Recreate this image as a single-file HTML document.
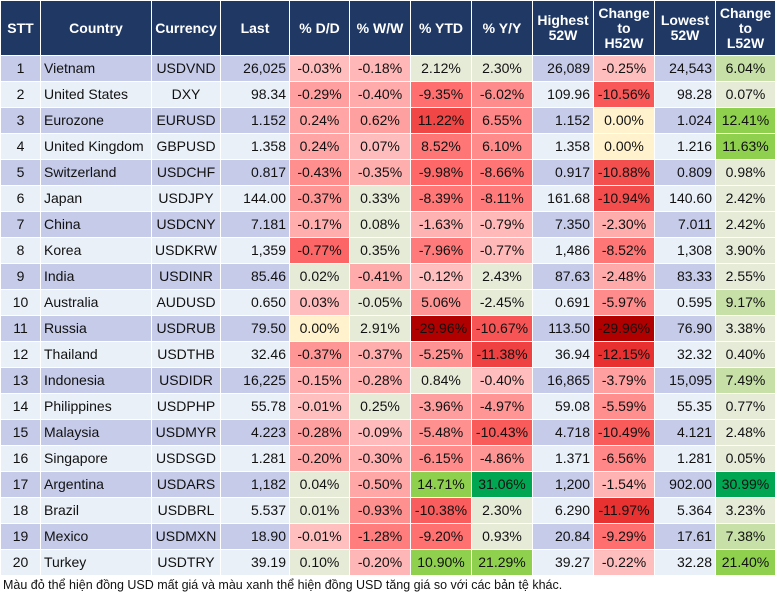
<!DOCTYPE html>
<html><head><meta charset="utf-8"><style>
body{margin:0;background:#fff;width:777px;height:602px;overflow:hidden;font-family:"Liberation Sans",Arial,sans-serif;}
#tbl{position:absolute;left:0;top:0;}
.c{position:absolute;box-sizing:border-box;font-size:14px;color:#111;line-height:24px;white-space:nowrap;overflow:hidden;}
.h{background:#1f3864;color:#fff;font-weight:bold;text-align:center;display:flex;align-items:center;justify-content:center;line-height:15px;font-size:14px;}
#foot{position:absolute;left:3px;top:578px;font-size:12.5px;color:#111;font-family:"Liberation Sans","Noto Sans CJK SC",sans-serif;}
</style></head><body>
<div id="tbl"></div>
<div id="foot">Màu đỏ thể hiện đồng USD mất giá và màu xanh thể hiện đồng USD tăng giá so với các bản tệ khác.</div>
<script>
const headers=["STT","Country","Currency","Last","% D/D","% W/W","% YTD","% Y/Y","Highest<br>52W","Change<br>to<br>H52W","Lowest<br>52W","Change<br>to<br>L52W"];
const countries=["Vietnam","United States","Eurozone","United Kingdom","Switzerland","Japan","China","Korea","India","Australia","Russia","Thailand","Indonesia","Philippines","Malaysia","Singapore","Argentina","Brazil","Mexico","Turkey"];
const currencies=["USDVND","DXY","EURUSD","GBPUSD","USDCHF","USDJPY","USDCNY","USDKRW","USDINR","AUDUSD","USDRUB","USDTHB","USDIDR","USDPHP","USDMYR","USDSGD","USDARS","USDBRL","USDMXN","USDTRY"];
const last=["26,025","98.34","1.152","1.358","0.817","144.00","7.181","1,359","85.46","0.650","79.50","32.46","16,225","55.78","4.223","1.281","1,182","5.537","18.90","39.19"];
const dd=[-0.03,-0.29,0.24,0.24,-0.43,-0.37,-0.17,-0.77,0.02,0.03,0.00,-0.37,-0.15,-0.01,-0.28,-0.20,0.04,0.01,-0.01,0.10];
const ww=[-0.18,-0.40,0.62,0.07,-0.35,0.33,0.08,0.35,-0.41,-0.05,2.91,-0.37,-0.28,0.25,-0.09,-0.30,-0.50,-0.93,-1.28,-0.20];
const ytd=[2.12,-9.35,11.22,8.52,-9.98,-8.39,-1.63,-7.96,-0.12,5.06,-29.96,-5.25,0.84,-3.96,-5.48,-6.15,14.71,-10.38,-9.20,10.90];
const yy=[2.30,-6.02,6.55,6.10,-8.66,-8.11,-0.79,-0.77,2.43,-2.45,-10.67,-11.38,-0.40,-4.97,-10.43,-4.86,31.06,2.30,0.93,21.29];
const high=["26,089","109.96","1.152","1.358","0.917","161.68","7.350","1,486","87.63","0.691","113.50","36.94","16,865","59.08","4.718","1.371","1,200","6.290","20.84","39.27"];
const chH=[-0.25,-10.56,0.00,0.00,-10.88,-10.94,-2.30,-8.52,-2.48,-5.97,-29.96,-12.15,-3.79,-5.59,-10.49,-6.56,-1.54,-11.97,-9.29,-0.22];
const low=["24,543","98.28","1.024","1.216","0.809","140.60","7.011","1,308","83.33","0.595","76.90","32.32","15,095","55.35","4.121","1.281","902.00","5.364","17.61","32.28"];
const chL=[6.04,0.07,12.41,11.63,0.98,2.42,2.42,3.90,2.55,9.17,3.38,0.40,7.49,0.77,2.48,0.05,30.99,3.23,7.38,21.40];
const inverted=["EURUSD","GBPUSD","AUDUSD"];

const xs=[0,40,151,220,289,349,410,471,532,593,654,715,775];
const HEAD=55,ROW=26;
function mix(a,b,t){const p=s=>[1,3,5].map(i=>parseInt(s.substr(i,2),16));const A=p(a),B=p(b);return 'rgb('+A.map((v,i)=>Math.round(v+(B[i]-v)*t)).join(',')+')';}
function colorFor(v,redMax){
  if(v===0) return '#fff2cc';
  if(v<0){const t=Math.min(1,-v/redMax);
    if(t<0.33) return mix('#ffc0c0','#ff6a6a',t/0.33);
    if(t<0.4) return mix('#ff6a6a','#e83030',(t-0.33)/0.07);
    return mix('#e83030','#b00000',(t-0.4)/0.6);}
  if(v<5) return '#e6ebd8';
  if(v<10) return '#c6e0a8';
  if(v<25) return '#8fd14f';
  return '#00a651';
}
const tbl=document.getElementById('tbl');
function cell(col,y,h,html,cls,bg,align,name){
  const d=document.createElement('div');
  
  
  d.className='c '+cls;
  d.style.left=(xs[col]+1)+'px';d.style.top=(y+1)+'px';
  d.style.width=(xs[col+1]-xs[col]-1)+'px';d.style.height=(h-1)+'px';
  if(bg)d.style.background=bg;
  if(align){d.style.textAlign=align;d.style.padding=align==='right'?'0 3px 0 0':align==='left'?'0 0 0 3px':'0';}
  d.innerHTML=html;tbl.appendChild(d);
}
headers.forEach((h,i)=>cell(i,0,HEAD,h,'h',null,null,'header-'+h.replace(/<br>/g,' ').replace(/[^a-zA-Z0-9]+/g,'-').toLowerCase()));
const fmt=v=>v.toFixed(2)+'%';
for(let r=0;r<countries.length;r++){
  const y=HEAD+r*ROW;
  const base=r%2===0?'#c5cbe9':'#e9f0f8';
  const inv=inverted.includes(currencies[r])?-1:1;
  cell(0,y,ROW,String(r+1),'',base,'center','row-number');
  cell(1,y,ROW,countries[r],'',base,'left','country-name');
  cell(2,y,ROW,currencies[r],'',base,'center','currency-code');
  cell(3,y,ROW,last[r],'',base,'right','last-price');
  cell(4,y,ROW,fmt(dd[r]),'',colorFor(inv*dd[r],2.3),'center','pct-day');
  cell(5,y,ROW,fmt(ww[r]),'',colorFor(inv*ww[r]>1?0.5:inv*ww[r],5),'center','pct-week');
  cell(6,y,ROW,fmt(ytd[r]),'',colorFor(inv*ytd[r],30),'center','pct-ytd');
  cell(7,y,ROW,fmt(yy[r]),'',colorFor(inv*yy[r],30),'center','pct-yoy');
  cell(8,y,ROW,high[r],'',base,'right','high-52w');
  cell(9,y,ROW,fmt(chH[r]),'',colorFor(chH[r],30),'center','change-to-high');
  cell(10,y,ROW,low[r],'',base,'right','low-52w');
  cell(11,y,ROW,fmt(chL[r]),'',colorFor(chL[r],30),'center','change-to-low');
}
</script>
</body></html>
